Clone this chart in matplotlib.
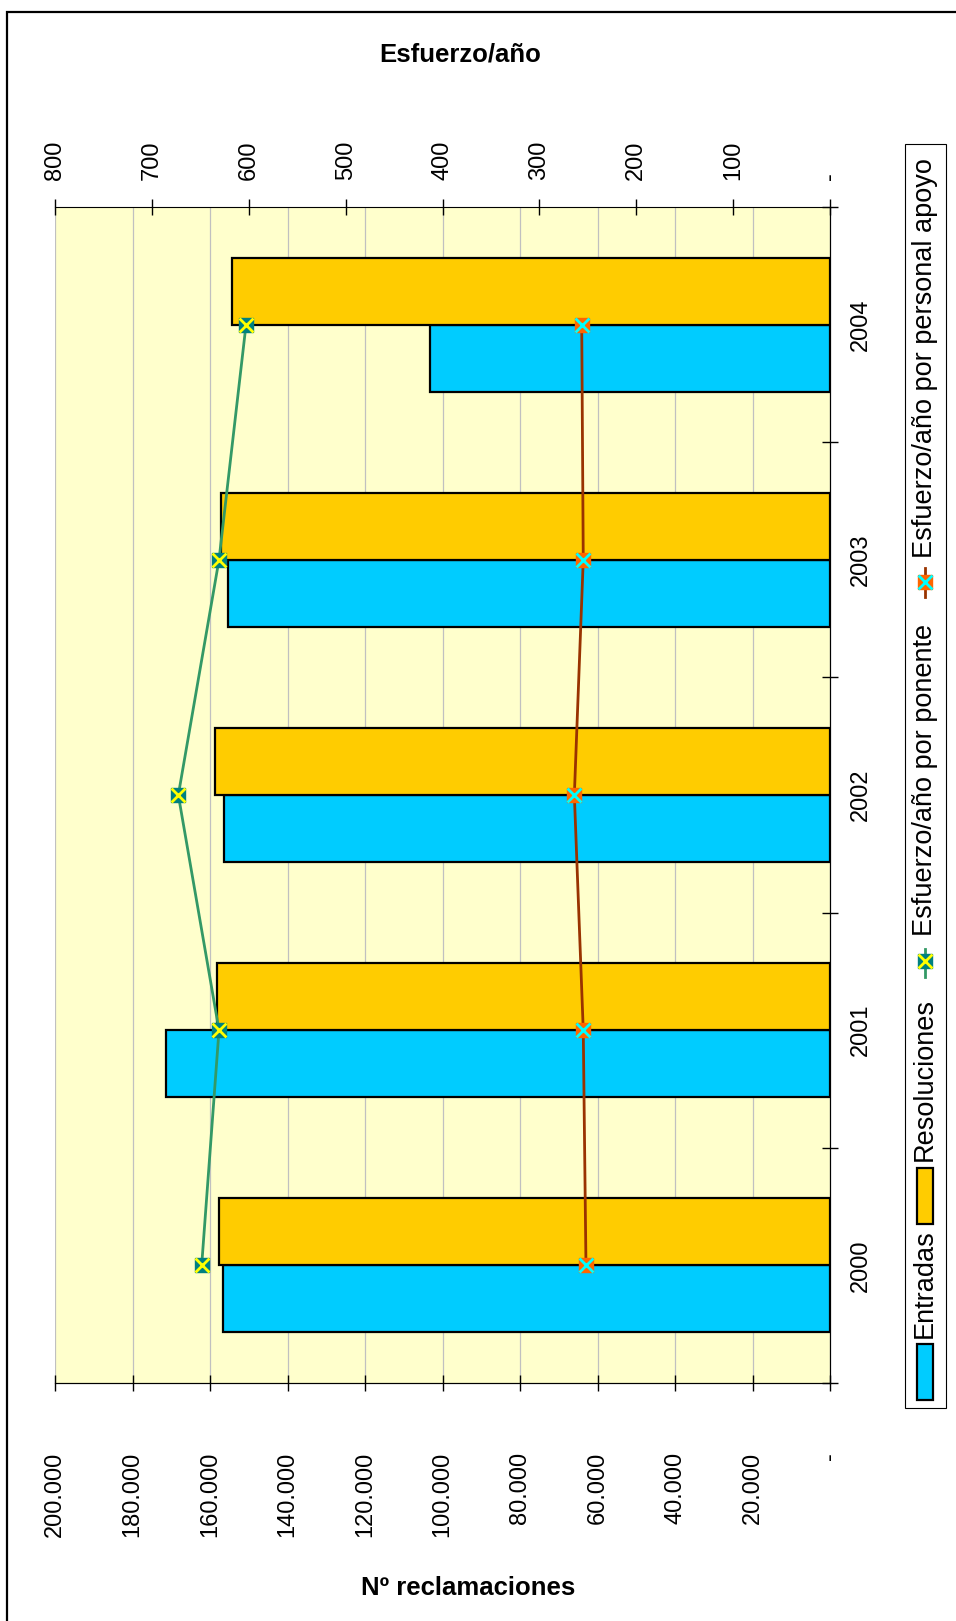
import numpy as np
import matplotlib
matplotlib.use("Agg")
import matplotlib.pyplot as plt
from matplotlib.patches import Rectangle
from matplotlib.lines import Line2D

plt.rcParams['font.family'] = ['Liberation Sans', 'DejaVu Sans']

# Data
years = ['2000', '2001', '2002', '2003', '2004']
entradas = [156600, 171400, 156400, 155300, 103200]
resoluciones = [157700, 158300, 158700, 157200, 154400]
esf_ponente = [648.6, 630.7, 672.7, 630.7, 602.8]
esf_apoyo = [251.9, 254.7, 263.9, 254.7, 256.3]

recl_ticks = [0, 20000, 40000, 60000, 80000, 100000, 120000, 140000, 160000, 180000, 200000]
recl_labels = ['-', '20.000', '40.000', '60.000', '80.000', '100.000', '120.000',
               '140.000', '160.000', '180.000', '200.000']
esf_ticks = [0, 100, 200, 300, 400, 500, 600, 700, 800]
esf_labels = ['-', '100', '200', '300', '400', '500', '600', '700', '800']

C_ENT = '#00CCFF'
C_RES = '#FFCC00'

W, H = 956, 1621
fig = plt.figure(figsize=(W / 100, H / 100), dpi=100)


def fx(px):
    return px / W


def fy(py):
    return 1 - py / H


ax = fig.add_axes([fx(55), fy(1383), (830 - 55) / W, (1383 - 207) / H])
ax.set_facecolor('#FFFFCC')
pos = np.arange(len(years))
bw = 0.285
ax.barh(pos - bw / 2, entradas, height=bw, color=C_ENT, edgecolor='black', linewidth=1.6, zorder=2)
ax.barh(pos + bw / 2, resoluciones, height=bw, color=C_RES, edgecolor='black', linewidth=1.6, zorder=2)
ax.set_xlim(200000, 0)
ax.set_ylim(-0.5, len(years) - 0.5)
ax.set_xticks(recl_ticks)
ax.set_xticklabels(recl_labels, rotation=90, fontsize=17)
ax.tick_params(axis='x', direction='inout', length=11, width=1, pad=44)
ax.grid(axis='x', color='#C0C0C0', linewidth=0.9)
ax.set_axisbelow(True)

ax.set_yticks(np.arange(-0.5, len(years)))
ax.set_yticklabels([])
ax.set_yticks(pos, minor=True)
ax.set_yticklabels(years, minor=True, rotation=90, fontsize=17, va='center')
ax.tick_params(axis='y', which='both', left=False, labelleft=False, right=True, labelright=True)
ax.tick_params(axis='y', which='major', direction='inout', length=11, width=1)
ax.tick_params(axis='y', which='minor', length=0, pad=14)
ax.spines['left'].set_visible(False)
ax.spines['top'].set_visible(False)

# secondary axis (esfuerzo)
ax2 = ax.twiny()
ax2.set_xlim(800, 0)
ax2.set_xticks(esf_ticks)
ax2.set_xticklabels(esf_labels, rotation=90, fontsize=17)
ax2.tick_params(axis='x', direction='inout', length=11, width=1, pad=14)
ax2.spines['left'].set_visible(False)

ax2.plot(esf_ponente, pos, color='#339966', linewidth=2, zorder=3)
ax2.plot(esf_ponente, pos, linestyle='none', marker='s', markersize=10.5,
         markerfacecolor='#008080', markeredgecolor='#008080', zorder=4)
ax2.plot(esf_ponente, pos, linestyle='none', marker='x', markersize=10.5,
         markeredgecolor='#FFFF00', markeredgewidth=2, zorder=5)

ax2.plot(esf_apoyo, pos, color='#993300', linewidth=2, zorder=3)
ax2.plot(esf_apoyo, pos, linestyle='none', marker='s', markersize=10.5,
         markerfacecolor='#FF6600', markeredgecolor='#FF6600', zorder=4)
ax2.plot(esf_apoyo, pos, linestyle='none', marker='x', markersize=10.5,
         markeredgecolor='#00FFFF', markeredgewidth=2, zorder=5)

# axis titles
fig.text(fx(460), fy(55), 'Esfuerzo/año', ha='center', va='center', fontsize=18.5, weight='bold')
fig.text(fx(468), fy(1588), 'Nº reclamaciones', ha='center', va='center', fontsize=18.5, weight='bold')

# outer chart frame
fig.add_artist(Rectangle((fx(7), fy(1700)), 2, fy(12) - fy(1700), transform=fig.transFigure,
                         fill=False, edgecolor='black', linewidth=1.6))

# rotated legend drawn by hand
fig.add_artist(Rectangle((fx(905), fy(1408)), fx(946) - fx(905), fy(144) - fy(1408),
                         transform=fig.transFigure, fill=False, edgecolor='black', linewidth=0.8))
lx = fx(925)
fig.add_artist(Rectangle((fx(917), fy(1400)), fx(933) - fx(917), fy(1344) - fy(1400),
                         transform=fig.transFigure, facecolor=C_ENT, edgecolor='black', linewidth=1.6))
fig.add_artist(Rectangle((fx(917), fy(1224)), fx(933) - fx(917), fy(1168) - fy(1224),
                         transform=fig.transFigure, facecolor=C_RES, edgecolor='black', linewidth=1.6))
for y0, y1, ym, lc, mc, xc in [(977, 949, 961, '#339966', '#008080', '#FFFF00'),
                              (597, 568, 582, '#993300', '#FF6600', '#00FFFF')]:
    fig.add_artist(Line2D([lx, lx], [fy(y0), fy(y1)], transform=fig.transFigure, color=lc, linewidth=2))
    fig.add_artist(Line2D([lx], [fy(ym)], transform=fig.transFigure, linestyle='none', marker='s',
                          markersize=10.5, markerfacecolor=mc, markeredgecolor=mc))
    fig.add_artist(Line2D([lx], [fy(ym)], transform=fig.transFigure, linestyle='none', marker='x',
                          markersize=10.5, markeredgecolor=xc, markeredgewidth=2))

leg_texts = [(1338, 'Entradas'), (1161, 'Resoluciones'), (936, 'Esfuerzo/año por ponente'),
             (558, 'Esfuerzo/año por personal apoyo')]
for ys, t in leg_texts:
    fig.text(lx, fy(ys), t, rotation=90, rotation_mode='anchor', ha='left', va='center', fontsize=19.5)

fig.savefig('out.png', dpi=100)
